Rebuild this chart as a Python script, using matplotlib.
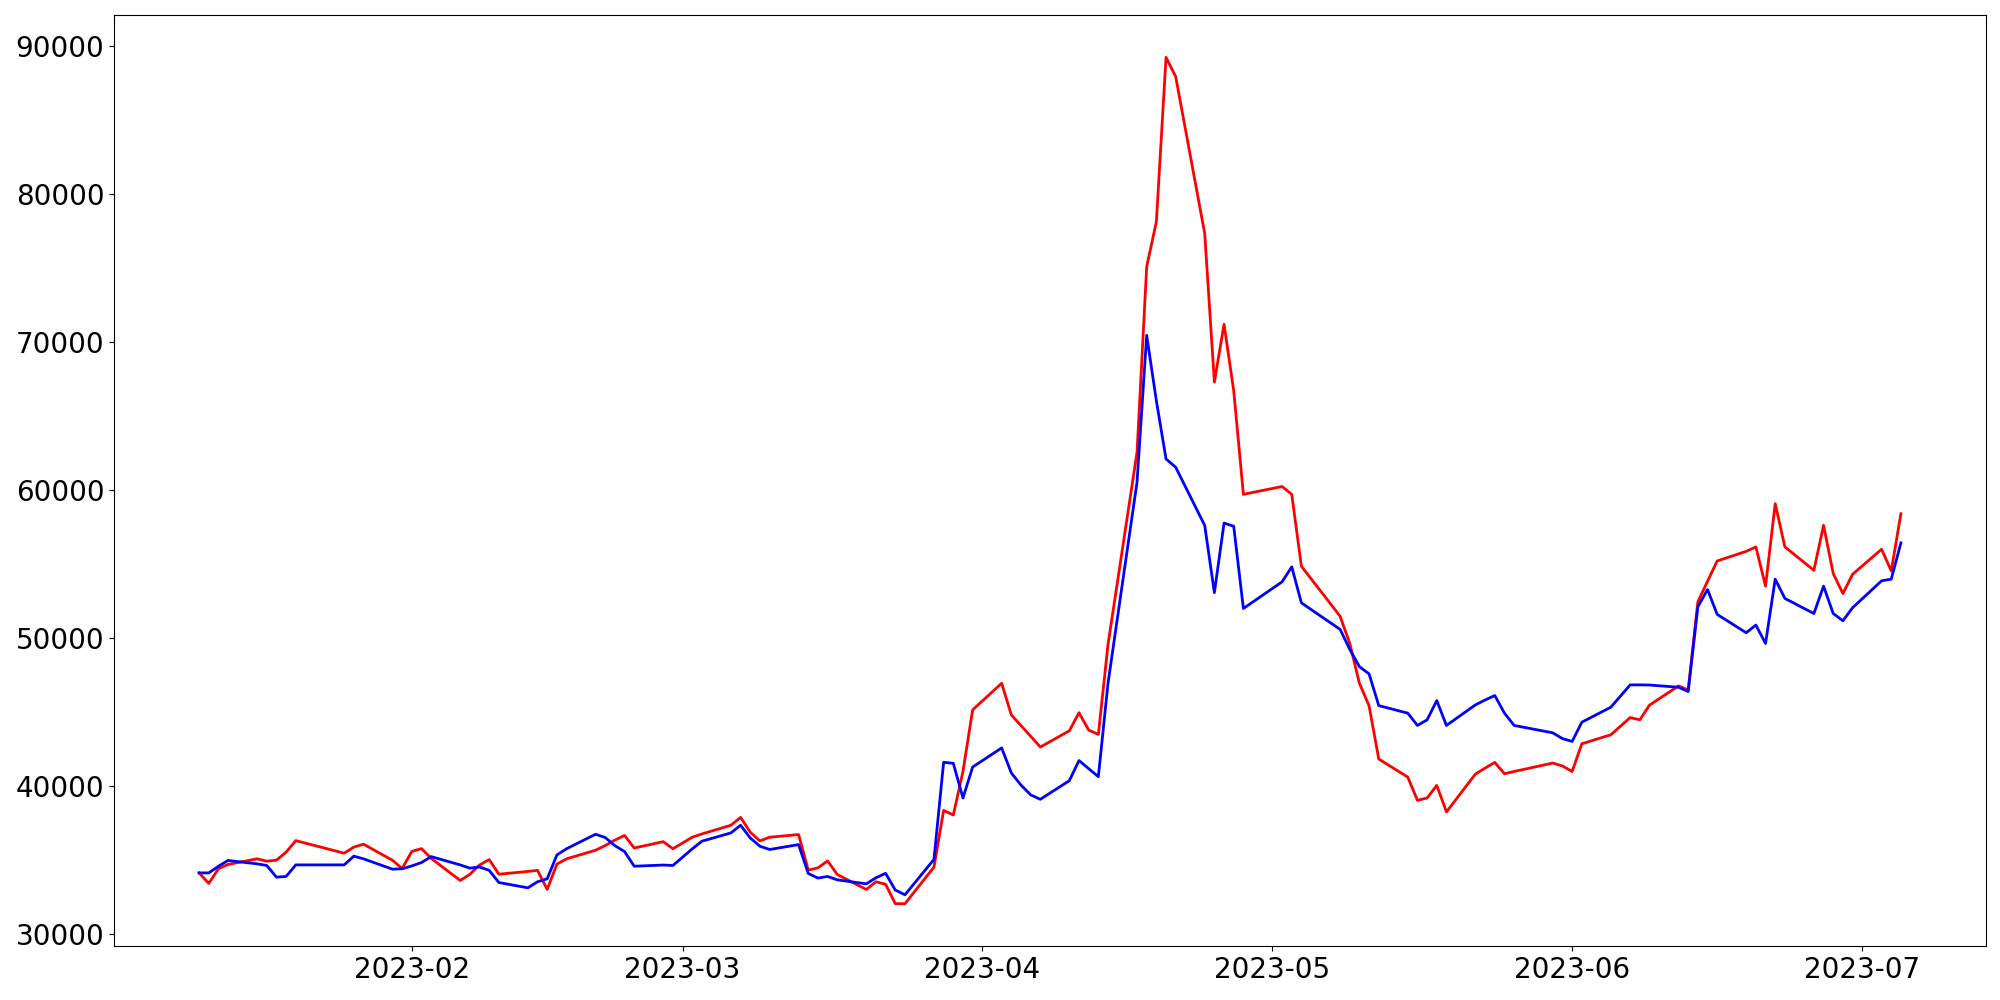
import pandas as pd
import matplotlib
matplotlib.use("Agg")
import matplotlib.pyplot as plt

# trading days (KRX calendar), Jan 10 - Jul 5 2023
krx_holidays = ["2023-01-23", "2023-01-24", "2023-03-01", "2023-05-01",
                "2023-05-05", "2023-05-29", "2023-06-06"]
dates = pd.bdate_range("2023-01-10", "2023-07-05", freq="C", holidays=krx_holidays)

red_vals = [
    # Jan
    34150, 33440, 34430, 34720, 35100, 34940, 35010, 35550, 36330, 35480,
    35890, 36090, 35000, 34450,
    # Feb
    35600, 35790, 35130, 33640, 34050, 34680, 35050, 34060, 34250, 34320,
    33030, 34740, 35100, 35680, 36000, 36360, 36680, 35830, 36260, 35780,
    # Mar
    36560, 36780, 37370, 37900, 36900, 36310, 36560, 36740, 34340, 34490,
    34960, 34040, 33030, 33550, 33380, 32070, 32070, 34540, 38370, 38060,
    41000, 45160,
    # Apr
    46960, 44820, 44100, 43380, 42650, 43750, 44970, 43800, 43500, 49580,
    62560, 75100, 78130, 89240, 87930, 77340, 67300, 71210, 66720, 59720,
    # May
    60250, 59720, 54860, 51490, 49650, 46960, 45430, 41840, 40620, 39050,
    39210, 40060, 38270, 40830, 41230, 41610, 40850, 41000, 41570, 41370,
    # Jun
    41000, 42870, 43480, 44640, 44490, 45480, 46780, 46510, 52460, 53850,
    55220, 55870, 56170, 53520, 59090, 56170, 54590, 57630, 54370, 53020,
    54320,
    # Jul
    56010, 54550, 58410,
]

blue_vals = [
    # Jan
    34150, 34150, 34600, 34990, 34760, 34650, 33860, 33910, 34690, 34690,
    35280, 35100, 34400, 34430,
    # Feb
    34620, 34850, 35250, 34690, 34470, 34550, 34320, 33500, 33140, 33550,
    33750, 35360, 35780, 36760, 36540, 35990, 35590, 34600, 34680, 34650,
    # Mar
    35770, 36290, 36850, 37370, 36510, 35950, 35730, 36060, 34110, 33800,
    33910, 33680, 33410, 33820, 34120, 32990, 32670, 35060, 41620, 41550,
    39210, 41300,
    # Apr
    42590, 40900, 40080, 39420, 39120, 40380, 41740, 41190, 40650, 46960,
    60540, 70460, 66040, 62110, 61550, 57620, 53080, 57780, 57560, 52010,
    # May
    53810, 54820, 52390, 50600, 49250, 48080, 47590, 45450, 44940, 44110,
    44490, 45790, 44110, 45500, 45830, 46130, 44940, 44110, 43610, 43220,
    # Jun
    43030, 44330, 45340, 46850, 46850, 46840, 46690, 46400, 52120, 53290,
    51610, 50370, 50890, 49650, 53990, 52690, 51670, 53520, 51670, 51180,
    52060,
    # Jul
    53880, 53990, 56440,
]

fig, ax = plt.subplots(figsize=(20, 10), dpi=100)
ax.plot(dates, red_vals, color="red", linewidth=2)
ax.plot(dates, blue_vals, color="blue", linewidth=2)
ax.tick_params(labelsize=20)
fig.subplots_adjust(left=0.057, right=0.993, bottom=0.054, top=0.985)
fig.savefig("out.png")
